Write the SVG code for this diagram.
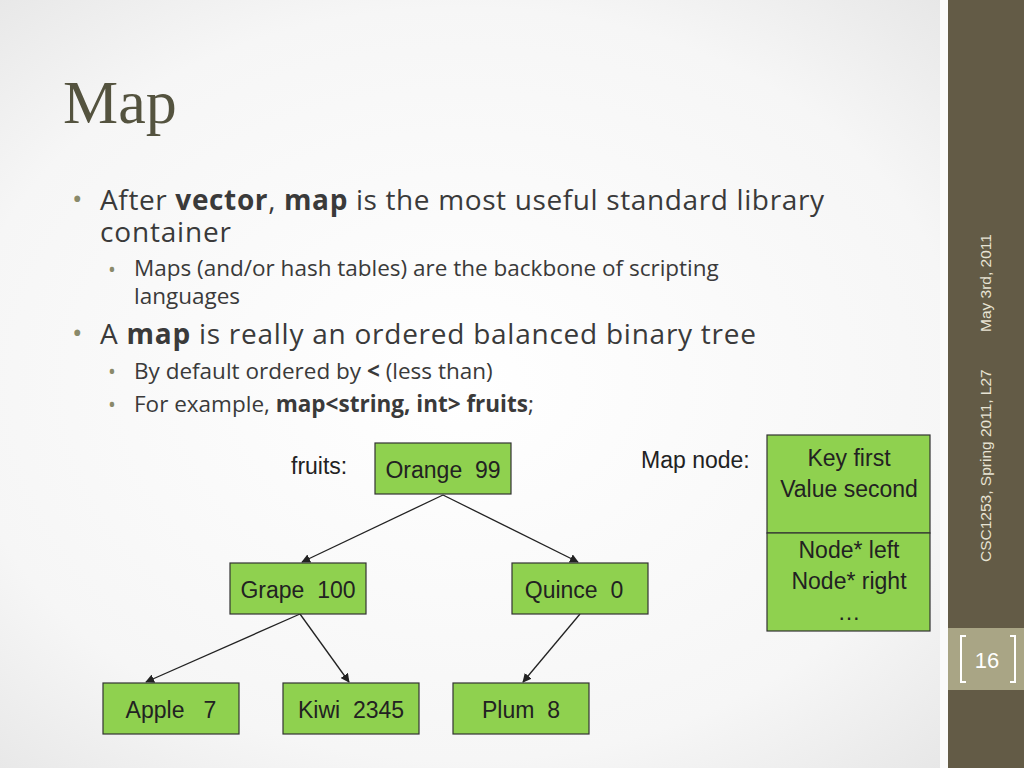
<svg xmlns="http://www.w3.org/2000/svg" width="1024" height="768" viewBox="0 0 1024 768">
<defs>
<radialGradient id="bg" cx="0.45" cy="0.5" r="0.7"><stop offset="0" stop-color="#ffffff"/><stop offset="0.7" stop-color="#f6f6f6"/><stop offset="1" stop-color="#e6e6e6"/></radialGradient>
<marker id="ah" viewBox="0 0 10 10" refX="9" refY="5" markerWidth="9" markerHeight="9" markerUnits="userSpaceOnUse" orient="auto"><path d="M0,0 L10,5 L0,10 z" fill="#222"/></marker>
</defs>
<style>
.b{font-family:"Open Sans",sans-serif;fill:#3a3a3a}
.n rect{fill:#8fd14f;stroke:#333;stroke-width:1.2}
.n text,.lbl{font-family:"Liberation Sans",Arial,sans-serif;font-size:23px;fill:#222;text-anchor:middle;white-space:pre}
.lbl{text-anchor:start}
#edges line{stroke:#222;stroke-width:1.3;marker-end:url(#ah)}
</style>
<rect width="1024" height="768" fill="url(#bg)"/>
<rect x="940" y="0" width="8" height="768" fill="#fafafa"/>
<rect x="948" y="0" width="76" height="768" fill="#635b46"/>
<rect x="948" y="628" width="76" height="62" fill="#a9a585"/>
<text x="987" y="668" font-family="Liberation Sans,Arial,sans-serif" font-size="22" fill="#fff" text-anchor="middle">16</text>
<path d="M966,636 h-5 v46 h5 M1010,636 h5 v46 h-5" fill="none" stroke="#fff" stroke-width="2"/>
<g font-family="Liberation Sans,Arial,sans-serif" font-size="15.5" fill="#e8e4d4">
<text transform="translate(991,562) rotate(-90)">CSC1253, Spring 2011, L27</text>
<text transform="translate(991,332) rotate(-90)">May 3rd, 2011</text>
</g>
<text x="63" y="123" font-family="Liberation Serif,serif" font-size="62" fill="#54533f">Map</text>
<g class="b">
<text x="72" y="209" font-size="28" fill="#8a8a6a">•</text>
<text x="100" y="210" font-size="28" textLength="724" lengthAdjust="spacing">After <tspan font-weight="bold">vector</tspan>, <tspan font-weight="bold">map</tspan> is the most useful standard library</text>
<text x="100" y="242" font-size="28" textLength="131">container</text>
<text x="108" y="277" font-size="21" fill="#8a8a6a">•</text>
<text x="134" y="276" font-size="22.5">Maps (and/or hash tables) are the backbone of scripting</text>
<text x="134" y="304" font-size="22.5">languages</text>
<text x="72" y="343" font-size="28" fill="#8a8a6a">•</text>
<text x="100" y="344" font-size="28" textLength="656">A <tspan font-weight="bold">map</tspan> is really an ordered balanced binary tree</text>
<text x="108" y="379" font-size="21" fill="#8a8a6a">•</text>
<text x="134" y="379" font-size="22.5">By default ordered by <tspan font-weight="bold">&lt;</tspan> (less than)</text>
<text x="108" y="412" font-size="21" fill="#8a8a6a">•</text>
<text x="134" y="412" font-size="22.5">For example, <tspan font-weight="bold">map&lt;string, int&gt; fruits</tspan>;</text>
</g>
<text class="lbl" x="291" y="474">fruits:</text>
<text class="lbl" x="641" y="468">Map node:</text>
<g id="edges">
<line x1="443" y1="495" x2="302" y2="562"/>
<line x1="443" y1="495" x2="578" y2="562"/>
<line x1="300" y1="614" x2="146" y2="682"/>
<line x1="300" y1="614" x2="349" y2="682"/>
<line x1="580" y1="614" x2="523" y2="682"/>
</g>
<g id="orange" class="n"><rect x="375" y="443" width="136" height="51"/><text x="443" y="478" xml:space="preserve">Orange  99</text></g>
<g id="grape" class="n"><rect x="230" y="563" width="136" height="51"/><text x="298" y="598" xml:space="preserve">Grape  100</text></g>
<g id="quince" class="n"><rect x="512" y="563" width="136" height="51"/><text x="574" y="598" xml:space="preserve">Quince  0</text></g>
<g id="apple" class="n"><rect x="103" y="683" width="136" height="51"/><text x="171" y="718" xml:space="preserve">Apple   7</text></g>
<g id="kiwi" class="n"><rect x="283" y="683" width="136" height="51"/><text x="351" y="718" xml:space="preserve">Kiwi  2345</text></g>
<g id="plum" class="n"><rect x="453" y="683" width="136" height="51"/><text x="521" y="718" xml:space="preserve">Plum  8</text></g>
<g id="mapnode" class="n"><rect x="767" y="435" width="163" height="98"/><rect x="767" y="533" width="163" height="98"/>
<text x="849" y="466">Key first</text><text x="849" y="497">Value second</text>
<text x="849" y="558">Node* left</text><text x="849" y="589">Node* right</text><text x="849" y="620" font-size="18">…</text></g>
</svg>
